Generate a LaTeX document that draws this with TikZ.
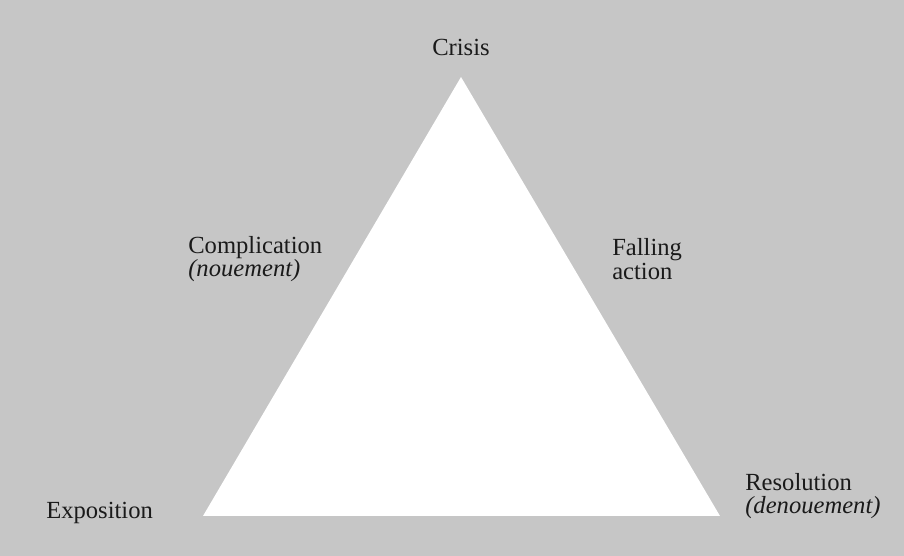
\documentclass[tikz,border=0pt]{standalone}
\usepackage{fontspec}
\setmainfont{Liberation Serif}
\usetikzlibrary{positioning}
\definecolor{PaperGray}{HTML}{C6C6C6}
\definecolor{InkBlack}{HTML}{1A1A1A}
\tikzset{
  stage/.style={text=InkBlack, align=left, inner sep=0pt, font=\fontsize{17.5}{16.5}\selectfont},
  peak/.style={draw=none, fill=white}
}
\begin{document}
\begin{tikzpicture}[x=0.025cm, y=-0.025cm]
\fill[PaperGray] (0,0) rectangle (904,556);
\useasboundingbox (0,0) rectangle (904,556);
\coordinate (apex) at (461,77);
\coordinate (left) at (203,516);
\coordinate (right) at (720,516);
\fill[peak] (left) -- (apex) -- (right) -- cycle;
\node[stage] (crisis) at (461,47) {Crisis};
\node[stage, anchor=west] (complication) at (188,259) {Complication\\\textit{(nouement)}};
\node[stage, anchor=west] (falling) at (612,259) {Falling\\action};
\node[stage, anchor=west] (exposition) at (46,513) {Exposition};
\node[stage, anchor=west] (resolution) at (745,496) {Resolution\\\textit{(denouement)}};
\end{tikzpicture}
\end{document}
